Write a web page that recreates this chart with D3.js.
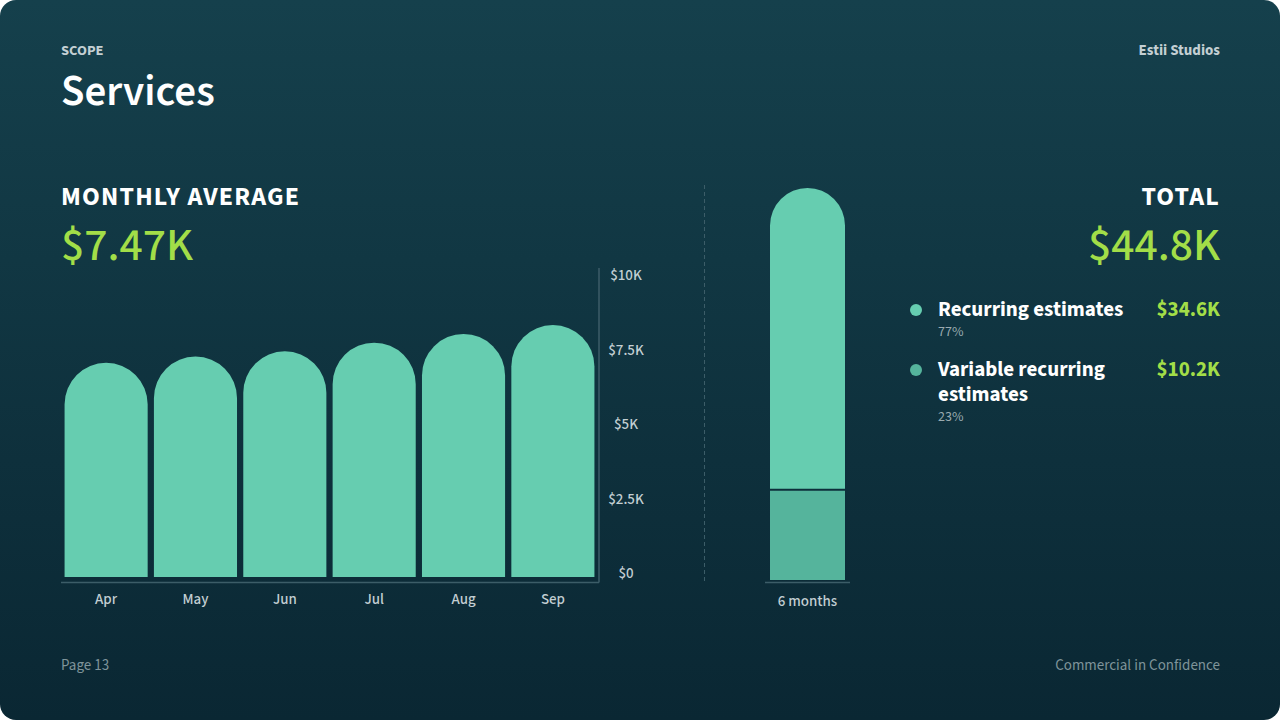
<!DOCTYPE html>
<html>
<head>
<meta charset="utf-8">
<script src="https://cdn.jsdelivr.net/npm/d3@7"></script>
<style>
  html, body { margin: 0; padding: 0; background: #ffffff; }
  svg { display: block; font-family: "Source Sans Pro", "Source Sans 3", Lato, "Noto Sans", sans-serif; }
</style>
</head>
<body>
<div id="chart"></div>
<script>
// monthly service amounts
const months = ["Apr", "May", "Jun", "Jul", "Aug", "Sep"];
const monthlyValues = [6910, 7110, 7280, 7560, 7840, 8130];
const yTicks = [0, 2500, 5000, 7500, 10000];

// total split
const segmentNames = ["Recurring estimates", "Variable recurring estimates"];
const segmentValues = [34600, 10200];
const segmentShares = ["77%", "23%"];
const segmentColors = ["#66cdb0", "#55b49c"];
const periodLabel = "6 months";

const W = 1280, H = 720;
const green = "#a2de48";
const soft = "#c3cfd3";
const lineCol = "#3c5d68";

const fmtK = v => "$" + d3.format(".3~s")(v).replace("k", "K");

const svg = d3.select("#chart").append("svg")
  .attr("width", W).attr("height", H);

// background card
const grad = svg.append("defs").append("linearGradient")
  .attr("id", "bg").attr("x1", 0).attr("y1", 0).attr("x2", 0).attr("y2", 1);
grad.append("stop").attr("offset", "0%").attr("stop-color", "#15404c");
grad.append("stop").attr("offset", "100%").attr("stop-color", "#0a2733");
svg.append("rect").attr("width", W).attr("height", H).attr("rx", 16).attr("fill", "url(#bg)");

// header
svg.append("text").attr("x", 61).attr("y", 55).text("SCOPE")
  .attr("fill", soft).attr("font-size", 14.5).attr("font-weight", 700);
svg.append("text").attr("x", 61).attr("y", 105).text("Services")
  .attr("fill", "#ffffff").attr("font-size", 43).attr("font-weight", 600);
svg.append("text").attr("x", 1220).attr("y", 55).text("Estii Studios")
  .attr("text-anchor", "end").attr("fill", soft).attr("font-size", 15).attr("font-weight", 700);

// footer
svg.append("text").attr("x", 61).attr("y", 670).text("Page 13")
  .attr("fill", "#7f949a").attr("font-size", 15);
svg.append("text").attr("x", 1220).attr("y", 670).text("Commercial in Confidence")
  .attr("text-anchor", "end").attr("fill", "#7f949a").attr("font-size", 15);

// path for a bar with a rounded top
function roundTop(x, y, w, h, r) {
  r = Math.min(r, w / 2, h);
  return `M${x},${y + h}V${y + r}A${r},${r} 0 0 1 ${x + r},${y}H${x + w - r}A${r},${r} 0 0 1 ${x + w},${y + r}V${y + h}Z`;
}

// ---- monthly average panel ----
const average = d3.sum(monthlyValues) / monthlyValues.length;
svg.append("text").attr("x", 61).attr("y", 205).text("MONTHLY AVERAGE")
  .attr("fill", "#ffffff").attr("font-size", 26).attr("font-weight", 700).attr("letter-spacing", 1.2);
svg.append("text").attr("x", 61).attr("y", 260).text(fmtK(average))
  .attr("fill", green).attr("font-size", 46).attr("font-weight", 500);

const x = d3.scaleBand().domain(months).range([61, 598]).paddingInner(0.07).paddingOuter(0.04);
const y = d3.scaleLinear().domain([0, 10000]).range([577, 267]);
// tick labels sit inside the axis strip, slightly inset
const yLabel = d3.scaleLinear().domain([0, 10000]).range([578, 280]);

svg.append("g").selectAll("path")
  .data(monthlyValues).enter()
  .append("path")
  .attr("d", (d, i) => roundTop(x(months[i]), y(d), x.bandwidth(), y(0) - y(d), x.bandwidth() / 2))
  .attr("fill", segmentColors[0]);

// axes lines
svg.append("line").attr("x1", 61).attr("x2", 599).attr("y1", 582.5).attr("y2", 582.5)
  .attr("stroke", lineCol).attr("stroke-width", 1.5);
svg.append("line").attr("x1", 599).attr("x2", 599).attr("y1", 268).attr("y2", 582.5)
  .attr("stroke", lineCol).attr("stroke-width", 1.5);

svg.append("g").selectAll("text")
  .data(yTicks).enter()
  .append("text")
  .attr("x", 626).attr("y", d => yLabel(d))
  .attr("text-anchor", "middle")
  .attr("fill", soft).attr("font-size", 15).attr("font-weight", 500)
  .text(d => d === 0 ? "$0" : fmtK(d));

svg.append("g").selectAll("text")
  .data(months).enter()
  .append("text")
  .attr("x", d => x(d) + x.bandwidth() / 2).attr("y", 604)
  .attr("text-anchor", "middle")
  .attr("fill", soft).attr("font-size", 15).attr("font-weight", 500)
  .text(d => d);

// divider
svg.append("line").attr("x1", 704.5).attr("x2", 704.5).attr("y1", 185).attr("y2", 584)
  .attr("stroke", lineCol).attr("stroke-width", 1).attr("stroke-dasharray", "4,3");

// ---- total panel ----
const total = d3.sum(segmentValues);
const yT = d3.scaleLinear().domain([0, total]).range([580, 188]);
const barX = 770, barW = 75;

// stack bottom-up: variable first, recurring on top
const order = [1, 0];
let acc = 0;
const stacked = order.map(i => {
  const s = { i: i, y0: acc, y1: acc + segmentValues[i] };
  acc += segmentValues[i];
  return s;
});

svg.append("g").selectAll("path")
  .data(stacked).enter()
  .append("path")
  .attr("d", (s, k) => {
    const top = yT(s.y1);
    const bottom = yT(s.y0) - (k > 0 ? 2 : 0);
    const r = k === stacked.length - 1 ? barW / 2 : 0;
    return roundTop(barX, top, barW, bottom - top, r);
  })
  .attr("fill", s => segmentColors[s.i]);

svg.append("line").attr("x1", 765).attr("x2", 850).attr("y1", 582.5).attr("y2", 582.5)
  .attr("stroke", lineCol).attr("stroke-width", 1.5);
svg.append("text").attr("x", barX + barW / 2).attr("y", 606).text(periodLabel)
  .attr("text-anchor", "middle").attr("fill", soft).attr("font-size", 15).attr("font-weight", 500);

svg.append("text").attr("x", 1220).attr("y", 205).text("TOTAL")
  .attr("text-anchor", "end").attr("fill", "#ffffff").attr("font-size", 26).attr("font-weight", 700).attr("letter-spacing", 1.2);
svg.append("text").attr("x", 1220).attr("y", 260).text(fmtK(total))
  .attr("text-anchor", "end").attr("fill", green).attr("font-size", 46).attr("font-weight", 500);

// legend
const legendTop = [316, 376];
const lineGap = 25;
segmentNames.forEach((name, i) => {
  const g = svg.append("g");
  g.append("circle").attr("cx", 916).attr("cy", legendTop[i] - 6).attr("r", 6).attr("fill", segmentColors[i]);
  // simple word wrap at ~200px, one text element per line
  const words = name.split(" ");
  let line = [], lines = 0;
  let t = g.append("text").attr("x", 938).attr("y", legendTop[i])
    .attr("fill", "#ffffff").attr("font-size", 21).attr("font-weight", 700);
  words.forEach(w => {
    line.push(w);
    t.text(line.join(" "));
    if (t.node().getComputedTextLength() > 200 && line.length > 1) {
      line.pop();
      t.text(line.join(" "));
      line = [w];
      lines++;
      t = g.append("text").attr("x", 938).attr("y", legendTop[i] + lines * lineGap)
        .attr("fill", "#ffffff").attr("font-size", 21).attr("font-weight", 700).text(w);
    }
  });
  g.append("text").attr("x", 938).attr("y", legendTop[i] + 20 + lines * lineGap)
    .attr("fill", "#9aabb0").attr("font-size", 14).text(segmentShares[i]);
  g.append("text").attr("x", 1220).attr("y", legendTop[i]).attr("text-anchor", "end")
    .attr("fill", green).attr("font-size", 21).attr("font-weight", 700).text(fmtK(segmentValues[i]));
});
</script>
</body>
</html>
